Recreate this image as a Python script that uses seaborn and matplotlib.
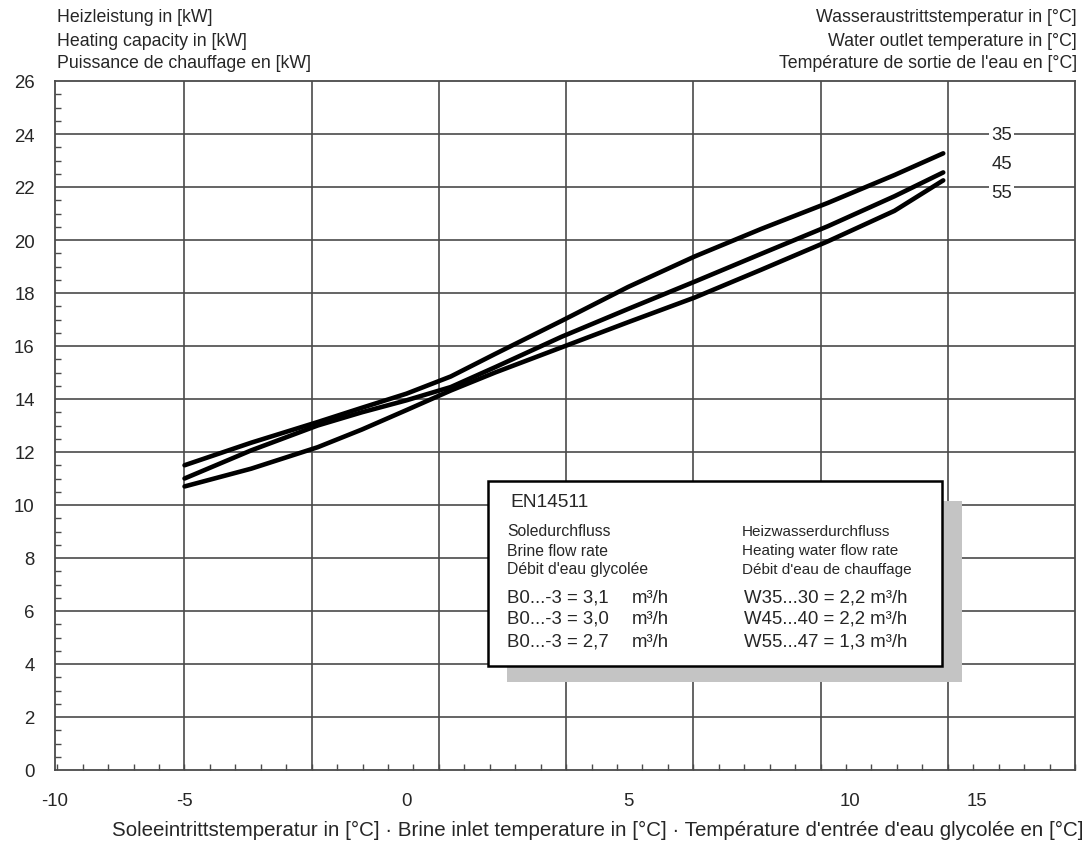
"""Heizleistung / heating capacity chart (EN14511)."""

import matplotlib.pyplot as plt
import matplotlib.patches as mpatches
import pandas as pd
import seaborn as sns

sns.set_style("white")
plt.rcParams["font.family"] = ["Liberation Sans", "DejaVu Sans"]

# brine inlet temperature [°C] and heating capacity [kW] per water outlet temperature
brine = [-5, -3.5, -2, -1, 0, 1, 2, 3.5, 5, 6.5, 8, 9.5, 11, 12.1]
cap_35 = [11.5, 12.35, 13.13, 13.67, 14.2, 14.85, 15.7, 16.95, 18.23, 19.38, 20.42, 21.4, 22.45, 23.27]
cap_45 = [11.0, 12.06, 13.0, 13.5, 13.95, 14.45, 15.2, 16.35, 17.4, 18.43, 19.48, 20.52, 21.65, 22.55]
cap_55 = [10.7, 11.37, 12.18, 12.85, 13.58, 14.32, 15.0, 15.95, 16.9, 17.83, 18.88, 19.95, 21.1, 22.25]
outlet_labels = ["35", "45", "55"]
label_y = [24.0, 22.87, 21.81]

x_tick_labels = ["-10", "-5", "0", "5", "10", "15"]
y_ticks = list(range(0, 27, 2))

header_left = ["Heizleistung in [kW]", "Heating capacity in [kW]", "Puissance de chauffage en [kW]"]
header_right = ["Wasseraustrittstemperatur in [°C]", "Water outlet temperature in [°C]",
                "Température de sortie de l'eau en [°C]"]
x_title = ("Soleeintrittstemperatur in [°C] · Brine inlet temperature in [°C] · "
           "Température d'entrée d'eau glycolée en [°C]")

box_title = "EN14511"
brine_head = ["Soledurchfluss", "Brine flow rate", "Débit d'eau glycolée"]
water_head = ["Heizwasserdurchfluss", "Heating water flow rate", "Débit d'eau de chauffage"]
brine_flow = ["B0...-3 = 3,1", "B0...-3 = 3,0", "B0...-3 = 2,7"]
water_flow = ["W35...30 = 2,2 m³/h", "W45...40 = 2,2 m³/h", "W55...47 = 1,3 m³/h"]

df = pd.concat(
    [
        pd.DataFrame({"brine": brine, "capacity": c, "outlet": o})
        for c, o in zip([cap_35, cap_45, cap_55], outlet_labels)
    ]
)

fig = plt.figure(figsize=(10.87, 8.45), dpi=100)
ax = fig.add_axes([55 / 1087, 74 / 845, 1020 / 1087, 689 / 845])

xmin, xmax = -7.87, 15.07
step = (xmax - xmin) / 8
grid_color = "#4a4a4a"

for k in range(1, 8):
    ax.axvline(xmin + k * step, color=grid_color, lw=1.2, zorder=1)
for v in y_ticks[1:-1]:
    ax.axhline(v, color=grid_color, lw=1.2, zorder=1)

sns.lineplot(
    data=df, x="brine", y="capacity", hue="outlet", palette=["black"] * 3,
    linewidth=3.3, legend=False, sort=False, ax=ax, zorder=3,
)

ax.set_xlim(xmin, xmax)
ax.set_ylim(0, 26)
ax.set_xticks([xmin - 0.05, -5, 0, 5, 10, 12.86])
ax.set_xticklabels(x_tick_labels)
ax.set_xticks([xmin + k * step / 5 for k in range(41)], minor=True)
ax.set_yticks(y_ticks)
ax.set_yticks([v / 2 for v in range(53)], minor=True)
ax.tick_params(axis="both", which="major", length=0, labelsize=13.4)
ax.tick_params(axis="x", which="major", pad=16)
ax.tick_params(axis="y", which="major", pad=14.5)
ax.tick_params(which="minor", direction="in", length=4, width=1, color=grid_color,
               bottom=True, left=True)
ax.set_xlabel("")
ax.set_ylabel("")
for s in ax.spines.values():
    s.set_color(grid_color)
    s.set_linewidth(1.3)

# curve labels at the right
for lab, yv in zip(outlet_labels, label_y):
    ax.text(13.42, yv, lab, ha="center", va="center", fontsize=13.4, zorder=4,
            bbox=dict(facecolor="white", edgecolor="none", pad=1.5))

# info box with shadow
ax.add_patch(mpatches.Rectangle((0.443, 0.128), 0.446, 0.262, transform=ax.transAxes,
                                facecolor="#c4c4c4", edgecolor="none", zorder=5))
ax.add_patch(mpatches.Rectangle((0.4245, 0.151), 0.445, 0.2684, transform=ax.transAxes,
                                facecolor="white", edgecolor="black", lw=1.8, zorder=6))
ax.text(0.446, 0.389, box_title, transform=ax.transAxes, fontsize=13.8, va="center", zorder=7)
for i, yy in enumerate([0.347, 0.319, 0.292]):
    ax.text(0.443, yy, brine_head[i], transform=ax.transAxes, fontsize=11.3, va="center", zorder=7)
    ax.text(0.6735, yy, water_head[i], transform=ax.transAxes, fontsize=11.0, va="center", zorder=7)
for i, yy in enumerate([0.251, 0.2206, 0.1872]):
    ax.text(0.443, yy, brine_flow[i], transform=ax.transAxes, fontsize=13.4, va="center", zorder=7)
    ax.text(0.5657, yy, "m³/h", transform=ax.transAxes, fontsize=13.4, va="center", zorder=7)
    ax.text(0.6755, yy, water_flow[i], transform=ax.transAxes, fontsize=13.4, va="center", zorder=7)

for i, yy in enumerate([18, 42, 63]):
    fig.text(57 / 1087, 1 - yy / 845, header_left[i], ha="left", va="center", fontsize=12.8)
    fig.text(1077 / 1087, 1 - yy / 845, header_right[i], ha="right", va="center", fontsize=12.8)
fig.text(1083 / 1087, 1 - 830 / 845, x_title, ha="right", va="center", fontsize=14.8)

fig.savefig("out.png", dpi=100)
